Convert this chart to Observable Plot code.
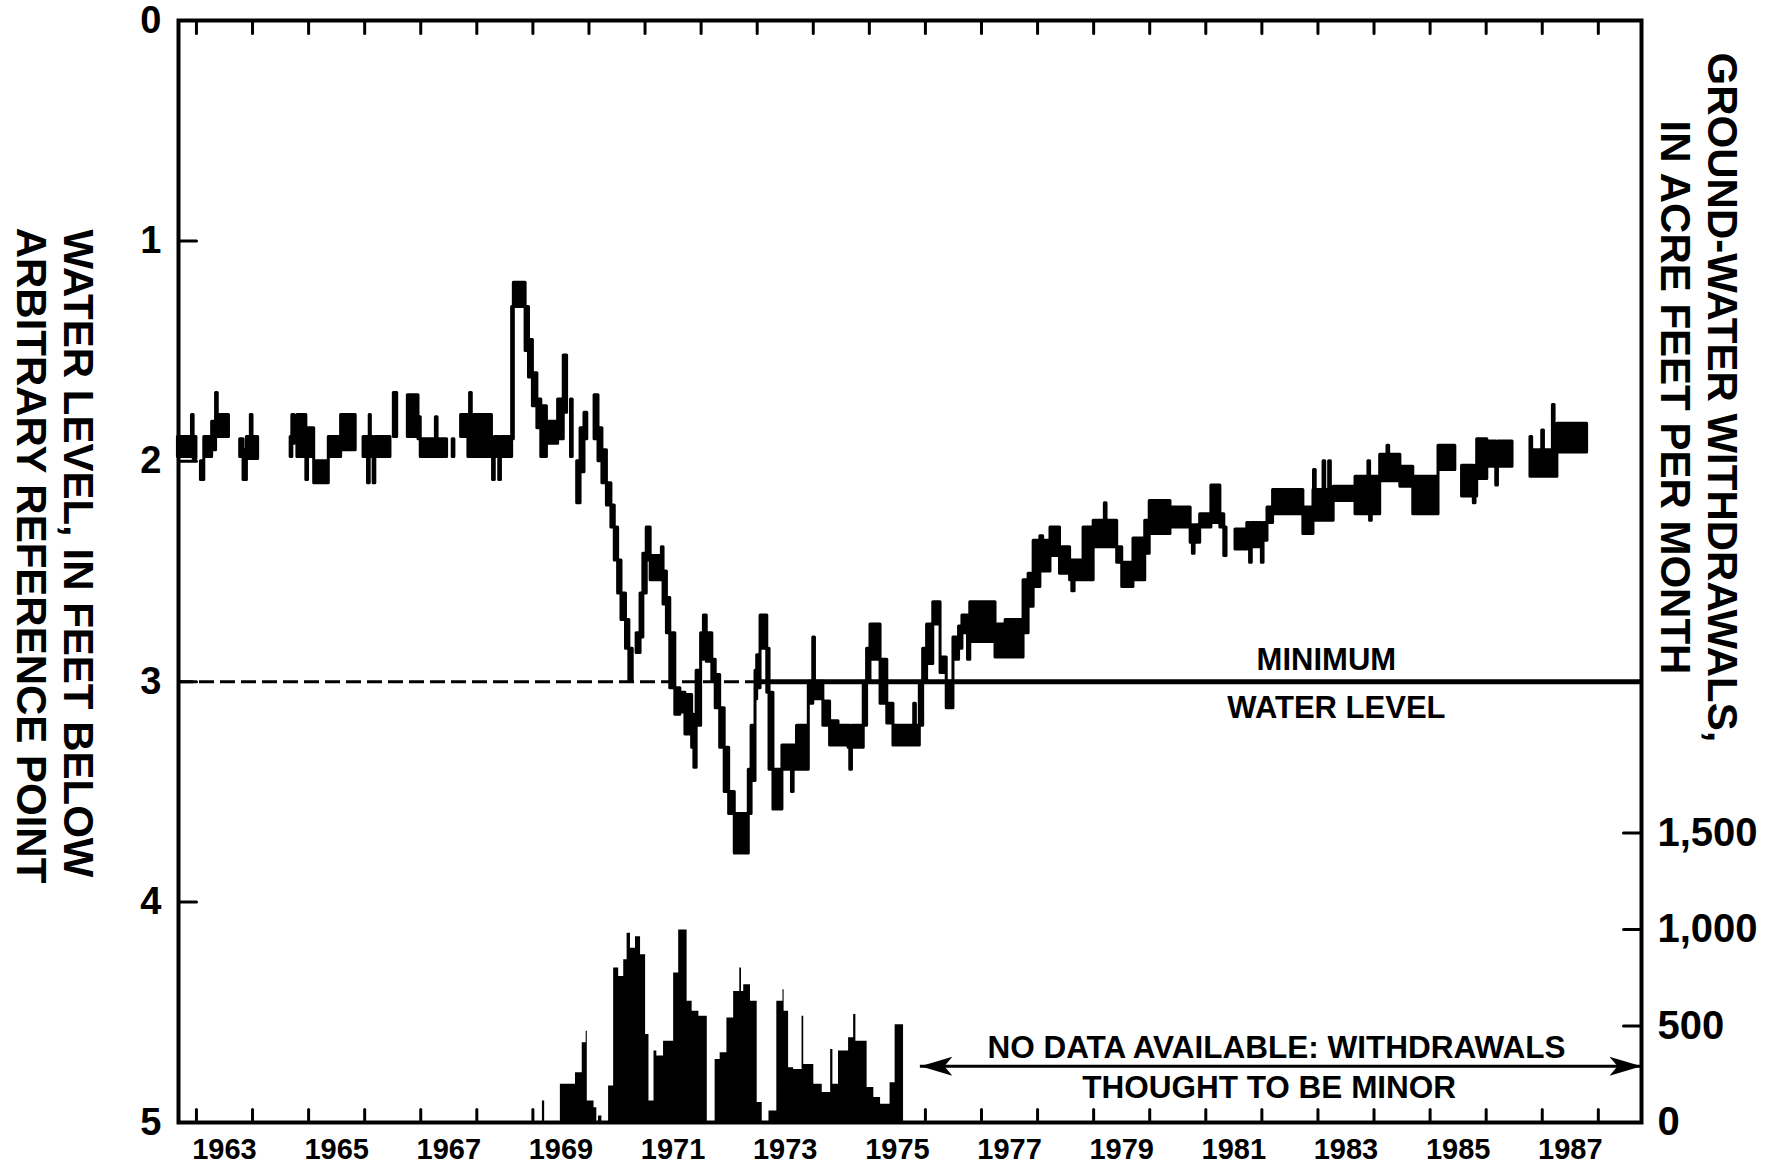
<!DOCTYPE html>
<html>
<head>
<meta charset="utf-8">
<script src="https://cdn.jsdelivr.net/npm/d3@7"></script>
<script src="https://cdn.jsdelivr.net/npm/@observablehq/plot@0.6"></script>
<style>
  html, body { margin: 0; padding: 0; background: #fff; overflow: hidden; }
  #chart { width: 1777px; height: 1167px; }
</style>
</head>
<body>
<div id="chart"></div>
<script>
// ---------------- DATA ----------------
// Water level, feet below arbitrary reference point: start of each step (decimal year),
// shallow and deep limit of the recorded range. null = no record (gap).
const levelYears = [
  1962.67,1962.92,1962.95,1963.00,1963.08,1963.14,1963.28,1963.35,1963.38,1963.58,
  1963.78,1963.84,1963.90,1963.97,1964.00,1964.10,1964.68,1964.71,1964.75,1964.80,
  1964.96,1964.99,1965.10,1965.36,1965.58,1965.84,1965.98,1966.06,1966.09,1966.11,
  1966.16,1966.19,1966.46,1966.52,1966.58,1966.77,1966.96,1967.00,1967.27,1967.30,
  1967.47,1967.57,1967.60,1967.72,1967.85,1967.88,1967.91,1968.27,1968.29,1968.32,
  1968.40,1968.43,1968.63,1968.66,1968.87,1968.93,1969.00,1969.08,1969.15,1969.25,
  1969.45,1969.55,1969.61,1969.68,1969.71,1969.79,1969.85,1969.92,1969.97,1970.10,
  1970.17,1970.24,1970.32,1970.40,1970.46,1970.52,1970.58,1970.66,1970.72,1970.78,
  1970.85,1970.92,1970.97,1971.03,1971.10,1971.30,1971.33,1971.39,1971.45,1971.54,
  1971.63,1971.72,1971.84,1971.88,1971.92,1972.00,1972.05,1972.10,1972.20,1972.26,
  1972.34,1972.42,1972.50,1972.60,1972.85,1972.90,1972.97,1973.00,1973.06,1973.18,
  1973.22,1973.29,1973.45,1973.62,1973.65,1973.71,1973.92,1974.00,1974.03,1974.18,
  1974.30,1974.45,1974.63,1974.66,1974.69,1974.90,1974.96,1975.02,1975.20,1975.32,
  1975.43,1975.80,1975.83,1975.90,1975.96,1976.03,1976.14,1976.27,1976.38,1976.50,
  1976.60,1976.66,1976.76,1976.80,1977.25,1977.43,1977.75,1977.84,1977.93,1978.05,
  1978.10,1978.23,1978.40,1978.58,1978.62,1978.66,1978.82,1979.00,1979.20,1979.23,
  1979.42,1979.51,1979.71,1979.92,1980.00,1980.37,1980.73,1980.77,1980.80,1980.90,
  1981.10,1981.26,1981.33,1981.37,1981.53,1981.74,1981.79,1981.82,1982.00,1982.03,
  1982.10,1982.20,1982.74,1982.92,1982.93,1982.96,1983.10,1983.13,1983.20,1983.23,
  1983.28,1983.67,1983.90,1983.93,1983.96,1984.11,1984.24,1984.27,1984.47,1984.70,
  1985.15,1985.45,1985.57,1985.78,1985.81,1985.84,1986.02,1986.18,1986.21,1986.47,
  1986.79,1986.82,1987.00,1987.03,1987.19,1987.22,1987.27,1987.80
];
const levelShallow = [
  1.89,1.79,1.89,null,2.00,1.89,1.82,1.69,1.79,null,
  1.90,1.95,1.89,1.79,1.89,null,1.89,1.79,null,1.79,
  1.95,1.85,2.00,1.89,1.79,null,1.89,1.92,1.79,1.89,
  1.92,1.89,null,1.69,null,1.70,1.80,1.90,1.80,1.90,
  null,1.90,null,1.79,1.79,1.69,1.79,1.89,1.92,1.89,
  1.92,1.89,1.30,1.19,1.30,1.45,1.60,1.72,1.75,1.82,
  1.72,1.52,null,1.72,null,2.00,1.85,1.78,null,1.70,
  1.85,1.95,2.10,2.20,2.30,2.45,2.60,2.72,2.85,null,
  2.78,2.60,2.42,2.30,2.43,2.39,2.50,2.62,2.78,3.03,
  3.05,3.06,3.15,3.20,2.95,2.78,2.70,2.78,2.90,2.97,
  3.12,3.30,3.50,3.60,3.40,3.20,2.95,2.88,2.70,2.85,
  3.05,3.40,3.29,3.29,3.29,3.20,3.00,2.80,3.00,3.09,
  3.18,3.20,3.20,3.25,3.20,3.00,2.85,2.74,2.90,3.10,
  3.20,3.10,3.20,3.00,2.85,2.74,2.64,2.89,3.00,2.80,
  2.75,2.70,2.75,2.64,2.74,2.72,2.54,2.51,2.36,2.34,
  2.36,2.30,2.39,2.45,2.45,2.45,2.30,2.27,2.19,2.27,
  2.39,2.46,2.35,2.27,2.18,2.21,2.29,2.30,2.29,2.24,
  2.11,2.24,2.30,null,2.31,2.28,2.30,2.28,2.30,2.28,
  2.21,2.13,2.21,2.13,2.04,2.13,2.00,2.13,2.00,2.13,
  2.115,2.07,2.00,2.10,2.07,1.97,1.93,1.97,2.025,2.07,
  1.93,null,2.02,2.05,2.02,1.90,1.91,1.95,1.91,null,
  1.89,1.95,1.86,1.95,1.745,1.95,1.83,null
];
const levelDeep = [
  1.98,1.98,1.99,null,2.085,1.98,1.95,1.89,1.89,null,
  1.98,2.085,1.99,1.95,1.99,null,1.98,1.92,null,1.98,
  2.085,1.98,2.10,1.98,1.95,null,1.98,2.10,1.95,1.98,
  2.10,1.98,null,1.89,null,1.89,1.90,1.98,1.95,1.98,
  null,1.98,null,1.89,1.98,1.95,1.98,1.98,2.085,1.98,
  2.085,1.98,1.90,1.30,1.50,1.62,1.75,1.85,1.98,1.92,
  1.90,1.78,null,1.98,null,2.19,2.05,1.90,null,1.90,
  2.00,2.10,2.20,2.30,2.45,2.60,2.72,2.85,3.00,null,
  2.87,2.80,2.60,2.45,2.54,2.54,2.65,2.78,3.03,3.15,
  3.14,3.24,3.30,3.39,3.20,2.90,2.82,2.91,3.00,3.12,
  3.30,3.50,3.60,3.78,3.60,3.45,3.08,3.03,2.85,3.05,
  3.40,3.58,3.40,3.50,3.40,3.40,3.10,3.05,3.08,3.20,
  3.29,3.29,3.30,3.40,3.30,3.20,3.00,2.90,3.10,3.19,
  3.29,3.29,3.29,3.20,3.00,2.92,2.74,2.96,3.12,2.90,
  2.85,2.78,2.90,2.82,2.89,2.89,2.78,2.66,2.57,2.50,
  2.50,2.43,2.51,2.54,2.59,2.54,2.54,2.39,2.35,2.39,
  2.46,2.57,2.54,2.42,2.33,2.30,2.37,2.42,2.37,2.30,
  2.28,2.30,2.43,null,2.40,2.39,2.46,2.39,2.46,2.36,
  2.28,2.24,2.33,2.27,2.20,2.27,2.20,2.27,2.20,2.27,
  2.18,2.24,2.20,2.27,2.24,2.09,2.09,2.09,2.115,2.24,
  2.04,null,2.16,2.19,2.16,2.08,2.025,2.11,2.025,null,
  2.07,2.07,2.05,2.07,2.00,2.07,1.96,null
];

// Ground-water withdrawals, acre-feet per month (value holds from each start year to the next)
const withdrawalYears = [
  1969.00,1969.17,1969.21,1969.49,1969.76,1969.88,1969.95,1969.97,1970.09,1970.14,
  1970.17,1970.23,1970.35,1970.44,1970.53,1970.62,1970.68,1970.74,1970.83,1970.92,
  1971.01,1971.07,1971.16,1971.21,1971.33,1971.51,1971.60,1971.75,1971.84,1971.96,
  1972.11,1972.25,1972.34,1972.46,1972.58,1972.69,1972.72,1972.76,1972.88,1973.00,
  1973.09,1973.21,1973.35,1973.46,1973.48,1973.56,1973.65,1973.80,1973.83,1974.01,
  1974.16,1974.31,1974.35,1974.45,1974.63,1974.72,1974.76,1974.96,1975.08,1975.20,
  1975.37,1975.46,1975.61
];
const withdrawalAcreFeet = [
  0,112,0,198,258,413,473,112,77,0,
  34,0,189,800,757,843,980,903,963,869,
  456,112,370,344,421,774,998,628,576,550,
  0,327,361,542,679,800,679,714,628,103,
  0,60,628,688,576,284,275,550,301,198,
  155,378,198,370,439,559,421,181,129,95,
  206,507,0
];

// Axes and annotations
const yearBoundaries = d3.range(1963, 1989);              // tick marks (January 1)
const yearLabels = [1963,1965,1967,1969,1971,1973,1975,1977,1979,1981,1983,1985,1987];
const depthTicks = [0, 1, 2, 3, 4, 5];
const withdrawalTicks = [0, 500, 1000, 1500];
const minimumWaterLevel = 3;           // feet below reference point
const dashedUntilYear = 1973.0;
const noDataFromYear = 1975.91;
const noDataArrowAcreFeet = 292;

// ---------------- BUILD ----------------
const X0 = 1962.68, X1 = 1988.77;
const bottomDepth = 5;
const acreFeetPerFoot = 1142;          // right axis: acre-feet per unit of left axis
const toDepth = w => bottomDepth - w / acreFeetPerFoot;

const level = [];
levelYears.forEach((t, i) => {
  const lo = levelShallow[i], hi = levelDeep[i];
  if (lo == null) {
    const prev = level[level.length - 1];
    if (prev && !isNaN(prev.lo)) level.push({t, lo: prev.lo, hi: prev.hi});
    level.push({t, lo: NaN, hi: NaN});
  } else {
    level.push({t, lo, hi});
  }
});
const withdrawals = withdrawalYears.map((t, i) => ({t, w: withdrawalAcreFeet[i]}));

const tickShape = {draw(ctx, l) { ctx.moveTo(0, 0); ctx.lineTo(0, -l); }};
const arrowHead = {draw(ctx) {
  ctx.moveTo(0, 0); ctx.lineTo(-32, -9.5); ctx.lineTo(-24, 0); ctx.lineTo(-32, 9.5); ctx.closePath();
}};

const font = "'Liberation Sans', Arial, Helvetica, sans-serif";
const titleStyle = {rotate: 90, fontSize: 42, fontWeight: "bold", textAnchor: "middle", lineAnchor: "middle"};

const chart = Plot.plot({
  width: 1777,
  height: 1167,
  marginLeft: 178,
  marginRight: 136,
  marginTop: 20,
  marginBottom: 45,
  x: {domain: [X0, X1], label: null},
  y: {domain: [0, 5], reverse: true, label: null},
  style: {fontFamily: font, fontWeight: "bold", background: "white", color: "black"},
  marks: [
    // withdrawals (right axis)
    Plot.areaY(withdrawals, {x: "t", y1: bottomDepth, y2: d => toDepth(d.w), curve: "step-after", fill: "black"}),
    // minimum water level
    Plot.ruleY([minimumWaterLevel], {x1: X0, x2: dashedUntilYear, strokeDasharray: "15,6", strokeWidth: 3}),
    Plot.ruleY([minimumWaterLevel], {x1: dashedUntilYear, x2: X1, strokeWidth: 5}),
    // water level hydrograph
    Plot.areaY(level, {x: "t", y1: "lo", y2: "hi", curve: "step-after", fill: "black", stroke: "black", strokeWidth: 3}),
    // inward tick marks
    Plot.vector(yearBoundaries, {x: d => d, y: bottomDepth, length: 13, rotate: 0, anchor: "start", shape: tickShape, stroke: "black", strokeWidth: 3}),
    Plot.vector(yearBoundaries, {x: d => d, y: 0, length: 13, rotate: 180, anchor: "start", shape: tickShape, stroke: "black", strokeWidth: 3}),
    Plot.vector(depthTicks.slice(1, -1), {x: X0, y: d => d, length: 18, rotate: 90, anchor: "start", shape: tickShape, stroke: "black", strokeWidth: 3}),
    Plot.vector(withdrawalTicks.slice(1), {x: X1, y: d => toDepth(d), length: 18, rotate: -90, anchor: "start", shape: tickShape, stroke: "black", strokeWidth: 3}),
    Plot.frame({strokeWidth: 4}),
    // axes labels
    Plot.axisX(yearLabels.map(y => y + 0.5), {anchor: "bottom", tickSize: 0, tickPadding: 16, fontSize: 29, fontWeight: "bold", tickFormat: d => String(Math.floor(d)), label: null}),
    Plot.axisY(depthTicks, {anchor: "left", tickSize: 0, tickPadding: 17, fontSize: 38, fontWeight: "bold", tickFormat: d => String(d), label: null}),
    Plot.axisY(withdrawalTicks.map(toDepth), {anchor: "right", tickSize: 0, tickPadding: 16, fontSize: 40, fontWeight: "bold",
      tickFormat: d => d3.format(",")(Math.round((bottomDepth - d) * acreFeetPerFoot / 10) * 10), label: null}),
    // axis titles
    Plot.text(["WATER LEVEL, IN FEET BELOW"], {frameAnchor: "left", dx: -101, dy: -18, ...titleStyle}),
    Plot.text(["ARBITRARY REFERENCE POINT"], {frameAnchor: "left", dx: -148, dy: -16, ...titleStyle}),
    Plot.text(["GROUND-WATER WITHDRAWALS,"], {frameAnchor: "right", dx: 80, dy: -174, ...titleStyle}),
    Plot.text(["IN ACRE FEET PER MONTH"], {frameAnchor: "right", dx: 33, dy: -174, ...titleStyle}),
    // annotations
    Plot.text(["MINIMUM"], {x: 1983.15, y: 2.90, fontSize: 31, fontWeight: "bold"}),
    Plot.text(["WATER LEVEL"], {x: 1983.33, y: 3.12, fontSize: 31, fontWeight: "bold"}),
    Plot.ruleY([toDepth(noDataArrowAcreFeet)], {x1: noDataFromYear, x2: X1, strokeWidth: 3}),
    Plot.dot([{t: noDataFromYear, r: 180}, {t: X1, r: 0}], {x: "t", y: toDepth(noDataArrowAcreFeet), rotate: "r", symbol: arrowHead, fill: "black", stroke: "none", r: 10}),
    Plot.text(["NO DATA AVAILABLE: WITHDRAWALS"], {x: 1982.26, y: 4.662, fontSize: 31.5, fontWeight: "bold"}),
    Plot.text(["THOUGHT TO BE MINOR"], {x: 1982.13, y: 4.844, fontSize: 31.5, fontWeight: "bold"})
  ]
});
document.getElementById("chart").appendChild(chart);
</script>
</body>
</html>
